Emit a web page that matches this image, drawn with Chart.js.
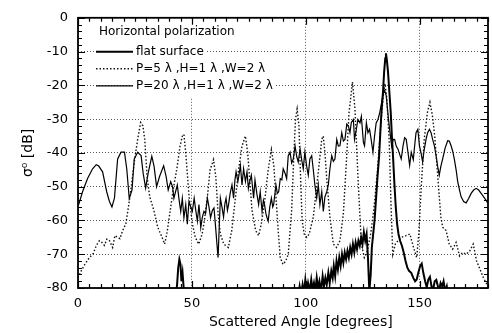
<!DOCTYPE html>
<html>
<head>
<meta charset="utf-8">
<script src="https://cdn.jsdelivr.net/npm/chart.js@4.4.0/dist/chart.umd.min.js"></script>
<style>
  html, body { margin: 0; padding: 0; background: #fff; }
</style>
</head>
<body>
<canvas id="grafico" width="492" height="333"></canvas>
<script>
// eixos
const xTicks = [0, 50, 100, 150];
const yTicks = [0, -10, -20, -30, -40, -50, -60, -70, -80];
const legendTitle = 'Horizontal polarization';
const seriesNames = ['flat surface', 'P=5 λ ,H=1 λ ,W=2 λ', 'P=20 λ ,H=1 λ ,W=2 λ'];

// superficie plana (null = abaixo de -80, fora do grafico)
const flatAngle = [42.8, 43.5, 44, 44.5, 45, 45.4, 45.9, 46.4, 47, 70,
  96.5, 97.3, 97.9, 98.6, 99.2, 99.8, 100.4, 101, 101.7, 102.4, 103, 103.6, 104.2, 104.8, 105.4, 106, 106.7,
  107.4, 108, 108.6, 109.2, 109.9, 110.5, 111.2, 111.8, 112.3, 112.9, 113.5, 114.1, 114.7, 115.3, 115.9,
  116.5, 117.1, 117.7, 118.3, 118.9, 119.5, 120.1, 120.7, 121.3, 121.9, 122.5, 123.1, 123.7, 124.3, 124.9,
  125.5, 126.1, 126.7, 127.3, 127.9, 128.5, 129, 129.6, 130.2, 130.8, 131.5, 132.2, 132.8, 133.3, 133.9,
  134.4, 134.9, 135.2, 135.6, 136.1, 136.7, 137.3, 137.8, 138.3, 138.9, 139.5, 140.1, 140.7, 141.4, 142.2,
  143, 143.8, 144.6, 145.4, 146.3, 147.2, 148, 148.7, 149.4, 150.2, 150.9, 151.6, 152.4, 153.1, 153.8,
  154.5, 155.2, 155.9, 156.6, 157.3, 158, 158.6, 159.2, 159.9, 160.5, 161.2, 161.9, 162.6];
const flatDb = [-83, -79, -74, -71.5, -73, -78, -75.5, -80, -83, null,
  -83, -79.5, -82, -79, -81.5, -77.6, -81, -78.5, -81, -77.5, -80.5, -78.5, -81, -77, -80, -78, -81,
  -76.5, -79.5, -77, -79, -75.5, -78.5, -75, -77, -73.5, -76.5, -72, -74.5, -71, -73.5, -70,
  -72.5, -69.5, -71.5, -69, -71, -68, -70, -67, -69.5, -66.5, -68.5, -66, -67.5, -65, -67,
  -63.5, -66, -64, -71, -81, -76, -68, -64, -60, -54, -47, -41, -33, -27, -22,
  -16, -12, -10.5, -12.5, -16, -22, -28, -35, -41, -49, -56, -61, -64, -66, -67.5,
  -69.5, -72, -74, -75, -75.5, -77, -78, -77.5, -75.5, -73.5, -72.8, -75.5, -78, -79.8, -77.5,
  -76.7, -79.5, -80.5, -78, -77.6, -79.5, -80.5, -78.5, -79.5, -78, -81, -79.5, -83];

// P=5 lambda
const p5Angle = [0, 1.6, 3, 5, 6.7, 8, 9.4, 10.5, 11.6, 12.7, 13.8, 15.2, 16.2, 17.4, 18.4, 19.6, 21, 22.3,
  23.3, 24.7, 26.2, 27.5, 28.5, 29.3, 30.4, 31.5, 33.3, 35, 36.9, 38, 39, 40.5, 42, 43.4, 44.8, 45.8, 46.5,
  47.3, 48.7, 50.2, 51.5, 53, 54.5, 55.5, 56.8, 58, 59.5, 60.5, 61.5, 62.5, 64, 66, 67.5, 69, 70.5, 72,
  73.5, 74.5, 75.5, 76.4, 78, 79.3, 80.5, 82, 83.5, 84.9, 86, 87, 88, 88.8, 90, 91.2, 92.3, 93.8, 94.8,
  95.5, 96.2, 97, 97.6, 98.4, 99.3, 100.4, 101.5, 103.3, 105.5, 107, 107.7, 108.4, 109.2, 110.6, 112.1,
  113.5, 115, 116.5, 117.8, 119, 120.5, 121.6, 122.9, 124.4, 125.7, 127, 128.5, 130, 131.5, 133, 134.2,
  134.8, 135.6, 136.6, 137.4, 138.2, 139.3, 140.5, 142, 144, 145.7, 147.3, 148.7, 149.6, 150.7, 152,
  153.4, 154.5, 155.6, 156.6, 157.5, 158.5, 159.3, 160.1, 161.6, 163, 164.5, 166, 167.5, 168.8, 170.4,
  172, 173.5, 175, 176.5, 178, 180];
const p5Db = [-77, -74.7, -73, -71, -69.8, -67.5, -66, -66.5, -67.4, -65.5, -66, -68, -64.5, -65, -65.4, -63, -61, -55.3,
  -50.5, -42.7, -36, -31, -32, -36, -47.6, -53, -57, -62, -65, -67, -64, -57, -50, -44.7, -38, -35, -34.5,
  -40, -52.4, -61, -65, -67, -64, -60, -53, -45, -42, -47, -58, -64, -67, -68, -63, -54, -45, -38,
  -35, -40, -49, -57, -63, -64.5, -61, -54, -45, -39, -44, -54, -64, -71, -73, -72, -70, -57, -40,
  -30, -27, -32, -45, -60, -64, -65, -64, -59, -45.6, -36, -35, -40, -47.6, -59, -67,
  -68, -66, -58, -43, -28, -19, -27, -47, -67, -71, -69, -64, -56, -45, -31, -22,
  -19.5, -24, -36, -55, -70, -67, -66, -65, -64.5, -64, -68, -71, -64, -50, -36,
  -28, -25, -29, -35, -43, -52, -59, -62, -63, -67, -68.5, -66.5, -70.5, -69.5, -70,
  -69, -67, -72, -74.5, -77, -79.5];

// P=20 lambda
const p20Angle = [0.3, 2, 4.2, 6.4, 8, 9.1, 10.8, 12.6, 13.8, 14.9, 16, 17.4, 18.9, 20.4, 21.4, 22.5, 23.7,
  24.7, 26.2, 27.7, 28.6, 29.7, 30.8, 32.4, 33.4, 34.5, 35.8, 37.6, 38.7, 39.6, 40.7, 41.5, 42.1, 43.6,
  44.4, 45.1, 45.8, 46.5, 47.3, 48, 48.7, 49.5, 50.2, 51, 51.7, 52.4, 53.1, 53.9, 54.6, 55.3, 56, 56.8,
  57.5, 58.2, 59, 59.7, 60.3, 61, 61.5, 62, 62.5, 63.2, 63.9, 64.5, 65, 65.6, 66.1, 66.8, 67.6, 68.3,
  68.9, 69.4, 70.2, 70.8, 71.3, 72, 72.7, 73.5, 74.2, 74.8, 75.2, 76.1, 77.1, 77.7, 78.5, 79.3, 80, 80.8,
  81.4, 81.9, 82.5, 83, 83.5, 84.2, 84.9, 85.5, 85.9, 86.9, 87.5, 88.1, 88.8, 89.5, 90.1, 90.9, 91.6,
  92.3, 93.1, 93.8, 94.5, 95.3, 96, 96.7, 97.5, 98.2, 98.9, 99.6, 100.4, 101.1, 101.8, 102.6, 103.3, 104,
  104.8, 105.5, 106.2, 107, 107.7, 108.4, 109.2, 109.9, 110.6, 111.4, 112.1, 112.8, 113.6, 114.3, 115,
  115.8, 116.5, 117.2, 118, 118.7, 119.4, 120, 120.9, 121.4, 122.2, 122.9, 123.8, 124.4, 125.3, 125.8,
  126.6, 127.3, 128, 128.7, 129.5, 130.2, 130.9, 131.7, 132.5, 133.3, 134, 134.6, 135.3, 136, 136.8,
  137.7, 138.4, 139, 139.7, 140.5, 141.4, 141.9, 142.7, 143.4, 144.1, 144.9, 145.6, 146.3, 147.2, 147.8,
  148.4, 149.2, 149.9, 150.6, 151.3, 152, 152.8, 153.5, 154.3, 155, 155.7, 156.5, 157.2, 157.9, 158.6,
  159.3, 160.1, 161.2, 162.3, 163, 163.8, 164.5, 165.2, 166, 166.7, 167.5, 168.2, 169.3, 170.4, 171.5,
  172.6, 173.7, 174.8, 175.9, 177, 178.1, 179.1, 180];
const p20Db = [-55.3, -51.5, -47.6, -44.7, -43.5, -43.9, -45.6, -51.5, -54.4, -56, -53.4, -41.8, -39.8, -39.8, -44.7, -53.5, -51,
  -41.8, -39.8, -40.8, -46, -50.4, -46, -41, -44, -50, -47, -43.8, -47, -51, -48.5, -50, -53.4, -49.5,
  -54, -57.3, -53.4, -59.2, -55.3, -61.1, -54.4, -56, -57.3, -53.4, -57, -60.2, -55.3, -62.1, -59, -57.3, -58, -53.4,
  -56, -59.2, -57, -56.3, -61, -67, -71, -62, -53.4, -56, -59, -55, -53.4, -57, -55.3, -52, -49.5, -53.4,
  -48, -45.6, -48.5, -46, -43.7, -49.5, -44.7, -48.5, -45.6, -50.5, -49, -46.6, -53.4, -48, -52, -55.3, -51.5, -57.3,
  -54, -55.3, -58, -59.2, -60.2, -56, -53.4, -56, -55.3, -49.5, -52, -51.5, -47.6, -48, -44.7, -46, -47.6,
  -40.8, -39.8, -43, -41.8, -37.9, -41, -42.7, -38.9, -42, -44.7, -39.8, -44, -46.6, -41.8, -40.8, -45, -49.5,
  -53.4, -49.5, -55.3, -51.5, -57.3, -53, -51.5, -49.5, -44.7, -40.8, -42.5, -41.8, -36, -38, -37.9,
  -34, -36.5, -36, -31.5, -32, -34, -31, -30.1, -36, -33, -30.1, -31.1, -29.2, -36.9, -37.9,
  -31.1, -34, -33, -36, -39.8, -35, -31.1, -30.1, -28, -25, -22.5, -21.5, -23, -28, -33,
  -38, -36, -36, -38, -38.9, -40.8, -41.8, -37.9, -35.5, -36, -40, -43.7, -39.8, -42, -37.9,
  -34, -33, -37.9, -40, -42.7, -39, -36, -34, -33, -34, -36, -38, -40.8, -44, -46.6,
  -44, -41.8, -38.5, -36.4, -36.5, -37.9, -39.5, -41.8, -45, -48.5, -51, -53, -54.4, -54.8, -53.5,
  -52, -51, -50.5, -51, -52, -53, -54, -55];

const toPoints = (xs, ys) => xs.map((x, i) => ({ x: x, y: ys[i] }));
const fonte = 'DejaVu Sans';

// moldura com ticks para dentro nos quatro lados
const molduraPlugin = {
  id: 'moldura',
  beforeDatasetsDraw(chart) {
    // a grade vertical nao passa por tras da legenda
    const { ctx, chartArea, scales } = chart;
    const gx = scales.x.getPixelForValue(xTicks[1]);
    ctx.save();
    ctx.fillStyle = '#fff';
    ctx.fillRect(gx - 2, chartArea.top + 1, 4, 79);
    ctx.restore();
  },
  afterDraw(chart) {
    const { ctx, chartArea: a, scales } = chart;
    ctx.save();
    ctx.strokeStyle = '#000';
    ctx.lineWidth = 1.2;
    ctx.beginPath();
    for (let v = 0; v <= 180; v += 5) {
      const px = Math.round(scales.x.getPixelForValue(v)) + 0.5;
      const len = v % 50 === 0 ? 7 : 4;
      ctx.moveTo(px, a.bottom); ctx.lineTo(px, a.bottom - len);
      ctx.moveTo(px, a.top); ctx.lineTo(px, a.top + len);
    }
    for (let v = -80; v <= 0; v += 2) {
      const py = Math.round(scales.y.getPixelForValue(v)) + 0.5;
      const len = v % 10 === 0 ? 7 : 4;
      ctx.moveTo(a.left, py); ctx.lineTo(a.left + len, py);
      ctx.moveTo(a.right, py); ctx.lineTo(a.right - len, py);
    }
    ctx.stroke();
    ctx.lineWidth = 1.8;
    ctx.strokeRect(a.left, a.top, a.right - a.left, a.bottom - a.top);

    // legenda dentro da area do grafico
    const x0 = a.left + 18;
    ctx.font = '12px "' + fonte + '"';
    ctx.textBaseline = 'middle';
    ctx.fillStyle = '#000';
    ctx.fillText(legendTitle, a.left + 21, a.top + 14);
    chart.data.datasets.forEach((ds, i) => {
      const y = a.top + 34 + i * 17;
      ctx.strokeStyle = ds.borderColor;
      ctx.lineWidth = ds.borderWidth;
      ctx.setLineDash(ds.borderDash || []);
      ctx.beginPath();
      ctx.moveTo(x0, y);
      ctx.lineTo(x0 + 37, y);
      ctx.stroke();
      ctx.setLineDash([]);
      const w = ctx.measureText(ds.label).width;
      ctx.fillStyle = '#fff';
      ctx.fillRect(x0 + 38, y - 7, w + 4, 14);
      ctx.fillStyle = '#000';
      ctx.fillText(ds.label, x0 + 40, y);
    });
    ctx.restore();
  }
};

const ctx = document.getElementById('grafico');
const grafico = new Chart(ctx, {
  type: 'line',
  data: {
    datasets: [{
      label: seriesNames[0],
      data: toPoints(flatAngle, flatDb),
      borderColor: '#000',
      borderWidth: 2
    }, {
      label: seriesNames[1],
      data: toPoints(p5Angle, p5Db),
      borderColor: '#111',
      borderWidth: 1.4,
      borderDash: [1.5, 2]
    }, {
      label: seriesNames[2],
      data: toPoints(p20Angle, p20Db),
      borderColor: '#000',
      borderWidth: 1.2
    }]
  },
  options: {
    responsive: false,
    animation: false,
    clip: 0,
    elements: {
      point: { radius: 0 },
      line: { tension: 0 }
    },
    layout: {
      padding: { top: 13, right: 4, left: 0, bottom: 0 }
    },
    plugins: {
      legend: { display: false },
      tooltip: { enabled: false }
    },
    scales: {
      x: {
        type: 'linear',
        min: 0,
        max: 180,
        afterBuildTicks: (s) => { s.ticks = xTicks.map(v => ({ value: v })); },
        afterFit: (s) => { s.height = 45; },
        grid: { color: '#555', lineWidth: 1, drawTicks: false },
        border: { display: false, dash: [1, 2] },
        ticks: { color: '#000', padding: 8, font: { family: fonte, size: 13 } },
        title: {
          display: true,
          text: '\u00a0\u00a0\u00a0\u00a0\u00a0\u00a0\u00a0\u00a0Scattered Angle [degrees]',
          color: '#000',
          font: { family: fonte, size: 14 },
          padding: { top: 0, bottom: 2 }
        }
      },
      y: {
        min: -80,
        max: 0,
        afterBuildTicks: (s) => { s.ticks = yTicks.map(v => ({ value: v })); },
        afterFit: (s) => { s.width = 78; },
        grid: { color: '#555', lineWidth: 1, drawTicks: false },
        border: { display: false, dash: [1, 2] },
        ticks: { color: '#000', padding: 10, font: { family: fonte, size: 13 } },
        title: {
          display: true,
          text: 'σ⁰ [dB]',
          color: '#000',
          font: { family: fonte, size: 14 },
          padding: { top: 20, bottom: 0 }
        }
      }
    }
  },
  plugins: [molduraPlugin]
});
</script>
</body>
</html>
